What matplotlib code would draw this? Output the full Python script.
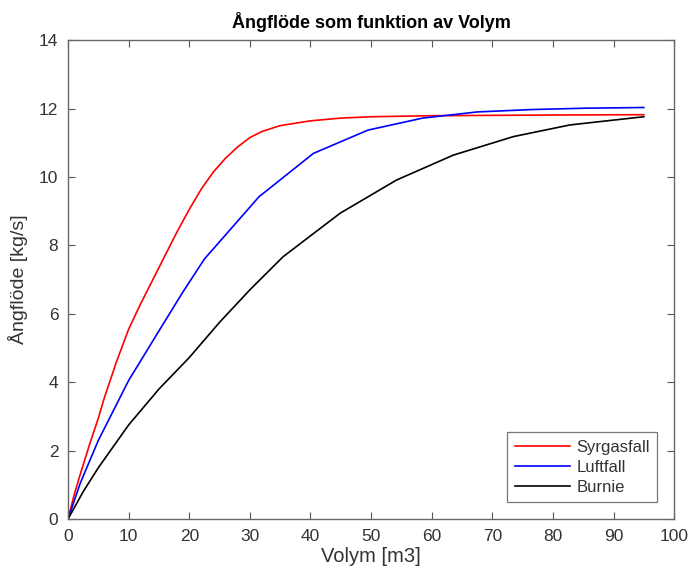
import matplotlib.pyplot as plt

# Volym [m3] vs Ångflöde [kg/s]
syrgas_x = [0, 1, 2, 3.5, 5, 6, 8, 10, 12, 14, 16, 18, 20, 22, 24, 26, 28, 30, 32, 35, 40, 45, 50, 60, 70, 80, 95]
syrgas_y = [0, 0.7, 1.3, 2.15, 2.95, 3.55, 4.6, 5.55, 6.3, 7.0, 7.7, 8.4, 9.05, 9.65, 10.15, 10.55, 10.88, 11.15, 11.33,
            11.5, 11.64, 11.72, 11.76, 11.79, 11.8, 11.81, 11.82]

luft_x = [0, 2, 5, 10, 15, 19, 22.5, 31.5, 40.5, 49.5, 58.5, 67.5, 76.5, 85.5, 95]
luft_y = [0, 1.04, 2.3, 4.05, 5.5, 6.65, 7.6, 9.42, 10.69, 11.37, 11.72, 11.9, 11.97, 12.01, 12.03]

burnie_x = [0, 2.5, 5, 10, 15, 20, 25, 30, 35.5, 44.9, 54.2, 63.6, 73.5, 82.8, 95]
burnie_y = [0, 0.8, 1.5, 2.75, 3.8, 4.72, 5.75, 6.7, 7.67, 8.94, 9.91, 10.64, 11.18, 11.52, 11.76]

labels = ['Syrgasfall', 'Luftfall', 'Burnie']

plt.rcParams['font.family'] = ['Liberation Sans', 'DejaVu Sans']

fig = plt.figure(figsize=(6.9, 5.73), dpi=100)
ax = fig.add_axes([0.0986, 0.0942, 0.8784, 0.8358])

ax.plot(syrgas_x, syrgas_y, color='#ff0000', lw=1.2, label=labels[0])
ax.plot(luft_x, luft_y, color='#0000ff', lw=1.2, label=labels[1])
ax.plot(burnie_x, burnie_y, color='#000000', lw=1.2, label=labels[2])

ax.set_xlim(0, 100)
ax.set_ylim(0, 14)
ax.set_xticks(range(0, 101, 10))
ax.set_yticks(range(0, 15, 2))
ax.tick_params(direction='in', top=True, right=True, length=5, width=0.8,
               labelsize=12.5, colors='#555555', labelcolor='#333333', pad=7)
for s in ax.spines.values():
    s.set_color('#666666')
    s.set_linewidth(1.0)

ax.set_title('Ångflöde som funktion av Volym', fontsize=13, fontweight='bold', pad=9)
ax.set_xlabel('Volym [m3]', fontsize=14.5, color='#333333', labelpad=2)
ax.set_ylabel('Ångflöde [kg/s]', fontsize=14, color='#333333', labelpad=8)

leg = ax.legend(loc='lower right', fancybox=False, handlelength=3.3, fontsize=12,
                borderaxespad=1.0, labelspacing=0.3, handletextpad=0.4, borderpad=0.45)
leg.get_frame().set_edgecolor('#555555')
leg.get_frame().set_linewidth(0.9)
for t in leg.get_texts():
    t.set_color('#333333')

plt.savefig('out.png')
